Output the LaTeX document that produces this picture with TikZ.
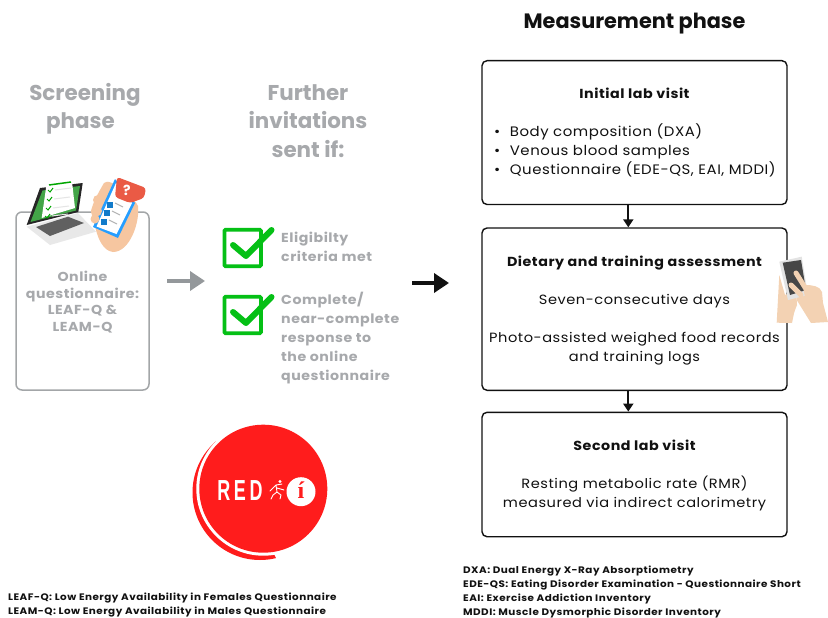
\documentclass[tikz,border=0pt]{standalone}
\usepackage{fontspec}
\usetikzlibrary{arrows.meta}
\setmainfont{Poppins}
\newfontfamily\popsp[LetterSpace=4,FakeStretch=1.09]{Poppins}
\newfontfamily\popfoot[LetterSpace=5,FakeStretch=1.10]{Poppins}
\newfontfamily\logofont{Liberation Sans}
\newfontfamily\serifi{Liberation Serif}
\definecolor{capgray}{HTML}{A7A9AC}
\definecolor{framegray}{HTML}{A3A6A8}
\definecolor{arrowgray}{HTML}{94989B}
\definecolor{inkblack}{HTML}{111111}
\definecolor{checkgreen}{HTML}{05C016}
\definecolor{logored}{HTML}{FF1C1C}
\definecolor{skin}{HTML}{F3D2B3}
\definecolor{handskin}{HTML}{F6C6A0}
\definecolor{bubble}{HTML}{EA5A45}
\definecolor{screengreen}{HTML}{43A548}
\tikzset{
  x=1pt,y=-1pt,
  phasebox/.style={draw=inkblack,line width=1.4pt,rounded corners=5pt,minimum width=305pt,inner sep=0pt},
  graybox/.style={draw=framegray,line width=1.5pt,rounded corners=6pt,minimum width=133pt,minimum height=178pt,inner sep=0pt},
  bigtitle/.style={font=\bfseries\fontsize{21.4}{28.5}\selectfont,align=center,inner sep=0pt},
  graytext/.style={text=capgray,font=\bfseries\popsp\fontsize{13}{19}\selectfont,inner sep=0pt},
  bodytext/.style={text=inkblack,font=\popsp\fontsize{13.4}{19}\selectfont,align=center,inner sep=0pt},
  listtext/.style={text=inkblack,font=\popsp\fontsize{13.7}{19}\selectfont,align=left,inner sep=0pt},
  boxhead/.style={text=inkblack,font=\bfseries\popsp\fontsize{13.1}{16}\selectfont,inner sep=0pt},
  footnote/.style={text=inkblack,font=\bfseries\popfoot\fontsize{9.45}{14}\selectfont,align=left,anchor=west,inner sep=0pt},
  flowarrow/.style={line width=3.6pt},
  downarrow/.style={-{Triangle[length=8pt,width=10pt]},line width=2pt,draw=inkblack},
  tick/.style={draw=checkgreen,line width=6pt,line cap=round,line join=round},
  tickbox/.style={draw=checkgreen,line width=3.6pt,rounded corners=1pt,fill=white,minimum size=36.5pt,inner sep=0pt}
}
\begin{document}
\begin{tikzpicture}
\useasboundingbox (0,0) rectangle (828,618);
\fill[white] (0,0) rectangle (828,618);

% titles
\node[bigtitle,text=inkblack,font=\bfseries\fontsize{20.8}{24}\selectfont] (tmeas) at (634.5,23.5) {Measurement phase};
\node[bigtitle,text=capgray] (tscreen) at (85,109) {Screening\\phase\hspace*{9pt}};
\node[bigtitle,text=capgray] (tfurther) at (308,121) {Further\\invitations\\sent if:};

% grey questionnaire box
\node[graybox] (qbox) at (82.5,301) {};
\node[graytext,align=center,font=\bfseries\popsp\fontsize{13}{16.4}\selectfont] (qtext) at (82.5,302) {Online\\questionnaire:\\LEAF-Q \&\\LEAM-Q};

% laptop
\fill[gray!18] (26.7,226.7) -- (50,245) -- (96,231.7) -- (78,213) -- cycle;
\fill[gray!75!black] (36,227) -- (50,236) -- (84,223) -- (68,216.7) -- cycle;
\fill[black!85] (26.7,225) -- (40,188) -- (82.7,183) -- (78.3,212) -- cycle;
\fill[screengreen] (30.5,222) -- (42.5,190.5) -- (80,186) -- (76,210.5) -- cycle;
\fill[white] (41.7,218) -- (46.7,183.3) -- (71.7,179) -- (75,208) -- cycle;
\draw[green!65!black,line width=1.5pt] (49,185) -- (71,182);
\foreach \yy/\xx in {190/48,199/47,208/46,216/45}{\draw[green!65!black,line width=1pt] (\xx,\yy) -- ++(2,2) -- ++(3,-4);\draw[gray!20,line width=1pt] (\xx+7,\yy) -- ++(16,-2);}
% hand with phone
\fill[handskin] (104,183) .. controls (110,176) and (136,200) .. (138,206) .. controls (140,222) and (130,252) .. (113,252) .. controls (103,251) and (98,238) .. (96,230) -- (92,215) .. controls (88,210) and (100,190) .. (104,183) -- cycle;
\fill[blue!45!cyan!85!white] (93,227) -- (115,179) -- (135,203) -- (118,238) -- cycle;
\fill[white] (96.5,226.5) -- (116,183) -- (132,203) -- (116.5,234) -- cycle;
\foreach \px/\py in {107/202,104/210,101/219}{\fill[cyan!60!blue] (\px,\py) rectangle ++(6,6);\draw[gray!60,line width=1pt] (\px+8,\py+1) -- ++(8,4);}
\fill[handskin] (98,200) circle (5pt) (96.5,211) circle (5.5pt) (95,219) circle (4.5pt);
\fill[bubble,rounded corners=3pt] (117,177) -- (146,188) -- (144,198) -- (130,203) -- (115,197) -- cycle;
\node[text=white,inner sep=0pt,font=\bfseries\fontsize{14}{14}\selectfont] (qmark) at (127,190) {?};

% arrows to the right
\coordinate (ga) at (167,281);
\coordinate (gb) at (205,281);
\draw[flowarrow,draw=arrowgray,-{Triangle[length=15pt,width=19pt,fill=arrowgray]}] (ga) -- (gb);
\coordinate (ba) at (412,283);
\coordinate (bb) at (449,283);
\draw[flowarrow,draw=inkblack,-{Triangle[length=15pt,width=19pt,fill=inkblack]}] (ba) -- (bb);

% checkboxes
\node[tickbox] (c1) at (242.7,248) {};
\draw[tick] (233,245) -- (246,256) -- (271.5,230);
\node[tickbox] (c2) at (242.7,315) {};
\draw[tick] (233,312) -- (246,323) -- (271.5,297);
\node[graytext,align=left,anchor=north west] (t1) at (281,231.5) {Eligibilty\\criteria met};
\node[graytext,align=left,anchor=north west] (t2) at (281,291.5) {Complete/\\near-complete\\response to\\the online\\questionnaire};

% phase boxes
\node[phasebox,minimum height=143.8pt] (b1) at (634.5,132.6) {};
\node[phasebox,minimum height=162.3pt] (b2) at (634.5,309.15) {};
\node[phasebox,minimum height=124.4pt] (b3) at (634.5,474.5) {};
\draw[downarrow] ([xshift=-6.2pt]b1.south) -- ([xshift=-6.2pt]b2.north);
\draw[downarrow] ([xshift=-6.2pt]b2.south) -- ([xshift=-6.2pt]b3.north);

\node[boxhead] (h1) at (634.5,93) {Initial lab visit};
\node[listtext,anchor=north west] (l1) at (494,124) {•\hspace{9.5pt}Body composition (DXA)\\•\hspace{9.5pt}Venous blood samples\\•\hspace{9.5pt}Questionnaire (EDE-QS, EAI, MDDI)};

\node[boxhead] (h2) at (634.5,263) {Dietary and training assessment};
\node[bodytext] (d1) at (634.5,301) {Seven-consecutive days};
\node[bodytext] (d2) at (634.5,349) {Photo-assisted weighed food records\\and training logs};

\node[boxhead] (h3) at (634.5,445) {Second lab visit};
\node[bodytext] (s1) at (634.5,493.5) {Resting metabolic rate (RMR)\\measured via indirect calorimetry};

% phone in hand
\fill[skin] (776.7,322.7) -- (779.3,275) -- (785,295) -- (796.7,300) -- (792,323) -- cycle;
\fill[skin] (796.7,300) -- (795,272) -- (805,285) .. controls (812,285) and (820,286) .. (822,292) -- (823,303) -- (828,322) -- (811,323) -- cycle;
\fill[skin] (785,295) -- (796,290) -- (797,305) -- (790,323) -- cycle;
\fill[gray!22] (779.3,261.7) -- (801.7,256.7) -- (808,295) -- (788,300) -- cycle;
\fill[black!72] (782.7,262.7) -- (801,260) -- (806,290) -- (790,295) -- cycle;
\draw[skin,line width=5pt,line cap=round] (796,273) -- (806,289) -- (808,300);
\draw[skin,line width=5pt,line cap=round] (791,285) -- (801,295);

% logo
\begin{scope}
\clip (150,440) -- (215,440) -- (277,560) -- (277,600) -- (150,600) -- cycle;
\fill[logored] (260,492.5) circle (67.5pt);
\end{scope}
\fill[white] (263.3,488.7) circle (67pt);
\fill[logored] (263.3,488.7) circle (64pt);
\node[text=white,inner sep=0pt,font=\logofont\bfseries\fontsize{29}{29}\selectfont,xscale=.62] (red) at (240,491) {R\hspace{6pt}E\hspace{6pt}D};
\draw[white,line width=.9pt,line cap=round,line join=round] (282,484) -- (276,485) -- (272,489) -- (270,491) (276,485) -- (277,492) -- (273,495) -- (271,499) (277,492) -- (281,495) -- (280,499) (277,488) -- (284,490);
\fill[white] (280,481.5) circle (1.6pt);
\fill[white] (301,491.7) circle (14.5pt);
\node[text=logored,inner sep=0pt,font=\serifi\bfseries\fontsize{24}{24}\selectfont] (ilogo) at (301,490.5) {í};

% footnotes
\node[footnote] (f1) at (8,605) {LEAF-Q: Low Energy Availability in Females Questionnaire\\LEAM-Q: Low Energy Availability in Males Questionnaire};
\node[footnote] (f2) at (463,591.5) {DXA: Dual Energy X-Ray Absorptiometry\\EDE-QS: Eating Disorder Examination - Questionnaire Short\\EAI: Exercise Addiction Inventory\\MDDI: Muscle Dysmorphic Disorder Inventory};
\end{tikzpicture}
\end{document}
